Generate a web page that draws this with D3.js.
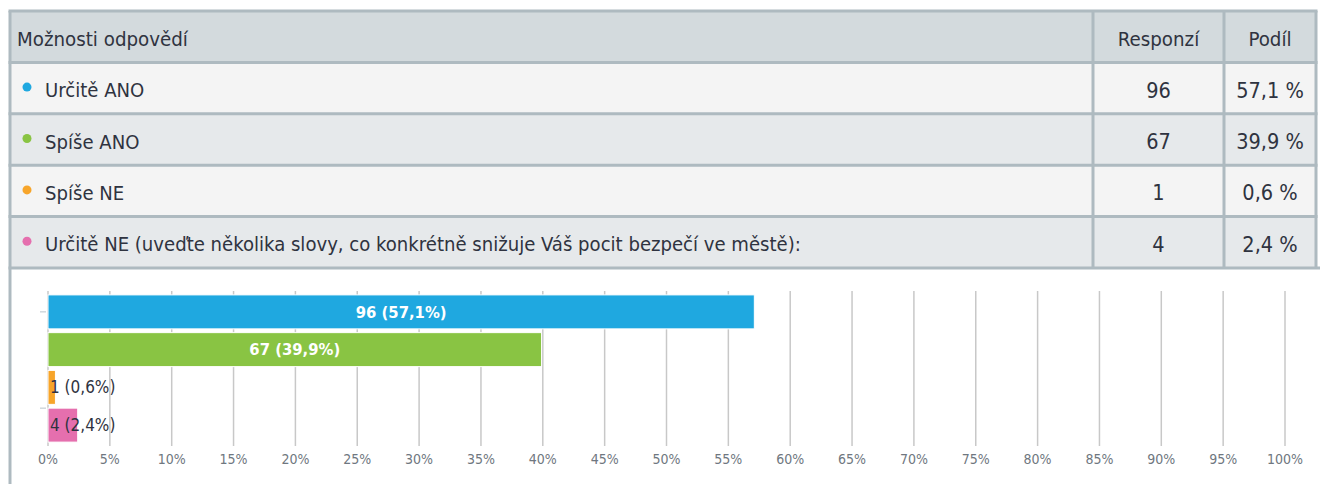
<!DOCTYPE html>
<html>
<head>
<meta charset="utf-8">
<script src="https://cdn.jsdelivr.net/npm/d3@7"></script>
<style>
  body { margin: 0; background: #fff; }
  svg text { font-family: "DejaVu Sans Condensed", "DejaVu Sans", sans-serif; font-stretch: condensed; }
</style>
</head>
<body>
<svg id="chart" width="1320" height="484"></svg>
<script>
// ------------------------------------------------------------
// Data
// ------------------------------------------------------------
const categories = [
    "Určitě ANO",
    "Spíše ANO",
    "Spíše NE",
    "Určitě NE (uveďte několika slovy, co konkrétně snižuje Váš pocit bezpečí ve městě):"
];
const responses = [96, 67, 1, 4];
const shares = [57.1, 39.9, 0.6, 2.4];
const colors = ["#1fa8e0", "#89c443", "#f7a52a", "#e56fae"];
const headers = ["Možnosti odpovědí", "Responzí", "Podíl"];
const tickValues = d3.range(0, 101, 5);

const svg = d3.select("#chart");
const fmt = v => d3.format(".1f")(v).replace(".", ",");
const textColor = "#2f3340";

// ------------------------------------------------------------
// Table
// ------------------------------------------------------------
const tableLeft = 10, tableRight = 1316;
const colEdges = [tableLeft, 1093, 1224, tableRight];
const rowY = d3.scaleLinear().domain([0, 5]).range([11, 268]);
const borderColor = "#aebac0";

// header
svg.append("rect")
    .attr("x", tableLeft).attr("y", rowY(0))
    .attr("width", tableRight - tableLeft).attr("height", rowY(1) - rowY(0))
    .attr("fill", "#d3dadd");

// body rows
svg.selectAll("rect.row")
    .data(categories)
    .enter()
    .append("rect")
    .attr("class", "row")
    .attr("x", tableLeft)
    .attr("y", (d, i) => rowY(i + 1))
    .attr("width", tableRight - tableLeft)
    .attr("height", rowY(1) - rowY(0))
    .attr("fill", (d, i) => i % 2 === 0 ? "#f4f4f4" : "#e6e9eb");

// chart panel
svg.append("rect")
    .attr("x", tableLeft).attr("y", rowY(5))
    .attr("width", 1320 - tableLeft).attr("height", 484 - rowY(5))
    .attr("fill", "#fff");
svg.append("line")
    .attr("x1", tableLeft).attr("x2", tableLeft)
    .attr("y1", rowY(5)).attr("y2", 484)
    .attr("stroke", borderColor).attr("stroke-width", 3);

// horizontal borders
svg.selectAll("line.hb")
    .data(d3.range(0, 6))
    .enter()
    .append("line")
    .attr("class", "hb")
    .attr("x1", tableLeft - 1.5)
    .attr("x2", (d) => d === 5 ? 1320 : tableRight + 1.5)
    .attr("y1", d => rowY(d)).attr("y2", d => rowY(d))
    .attr("stroke", borderColor).attr("stroke-width", 3);

// vertical borders
svg.selectAll("line.vb")
    .data(colEdges)
    .enter()
    .append("line")
    .attr("class", "vb")
    .attr("x1", d => d).attr("x2", d => d)
    .attr("y1", rowY(0)).attr("y2", rowY(5))
    .attr("stroke", borderColor).attr("stroke-width", 3);

// header text
svg.append("text")
    .text(headers[0])
    .attr("x", 17).attr("y", (rowY(0) + rowY(1)) / 2 + 2)
    .attr("dy", "0.35em")
    .attr("fill", textColor).attr("font-size", "20.3px");
[1, 2].forEach(c => {
    svg.append("text")
        .text(headers[c])
        .attr("x", (colEdges[c] + colEdges[c + 1]) / 2)
        .attr("y", (rowY(0) + rowY(1)) / 2 + 2)
        .attr("dy", "0.35em")
        .attr("text-anchor", "middle")
        .attr("fill", textColor).attr("font-size", "20.3px");
});

// row dots and text
const rowMid = i => (rowY(i + 1) + rowY(i + 2)) / 2;
svg.selectAll("circle.dot")
    .data(categories)
    .enter()
    .append("circle")
    .attr("cx", 27)
    .attr("cy", (d, i) => rowMid(i) - 1)
    .attr("r", 4.5)
    .attr("fill", (d, i) => colors[i]);

svg.selectAll("text.label")
    .data(categories)
    .enter()
    .append("text")
    .text(d => d)
    .attr("x", 45)
    .attr("y", (d, i) => rowMid(i) + 2)
    .attr("dy", "0.35em")
    .attr("fill", textColor).attr("font-size", "20.1px");

svg.selectAll("text.resp")
    .data(responses)
    .enter()
    .append("text")
    .text(d => d)
    .attr("x", (colEdges[1] + colEdges[2]) / 2)
    .attr("y", (d, i) => rowMid(i) + 2)
    .attr("dy", "0.35em")
    .attr("text-anchor", "middle")
    .attr("fill", textColor).attr("font-size", "21.5px");

svg.selectAll("text.share")
    .data(shares)
    .enter()
    .append("text")
    .text(d => fmt(d) + " %")
    .attr("x", (colEdges[2] + colEdges[3]) / 2)
    .attr("y", (d, i) => rowMid(i) + 2)
    .attr("dy", "0.35em")
    .attr("text-anchor", "middle")
    .attr("fill", textColor).attr("font-size", "21.5px");

// ------------------------------------------------------------
// Bar chart
// ------------------------------------------------------------
const xScale = d3.scaleLinear()
    .domain([0, 100])
    .range([48, 1285]);

const yScale = d3.scaleBand()
    .domain(categories)
    .range([293, 444])
    .paddingInner(0.1)
    .paddingOuter(0.05);

// gridlines
svg.selectAll("line.grid")
    .data(tickValues)
    .enter()
    .append("line")
    .attr("x1", d => xScale(d)).attr("x2", d => xScale(d))
    .attr("y1", 291).attr("y2", 446)
    .attr("stroke", "#c8c8c8").attr("stroke-width", 1.5);

// tick labels
svg.selectAll("text.tick")
    .data(tickValues)
    .enter()
    .append("text")
    .text(d => d + "%")
    .attr("x", d => xScale(d))
    .attr("y", 459)
    .attr("dy", "0.35em")
    .attr("text-anchor", "middle")
    .attr("fill", "#6f7780").attr("font-size", "14px");

// small left ticks
svg.selectAll("line.ytick")
    .data([yScale(categories[0]) + yScale.bandwidth() / 2, yScale(categories[3])])
    .enter()
    .append("line")
    .attr("x1", 40).attr("x2", 46)
    .attr("y1", d => d).attr("y2", d => d)
    .attr("stroke", "#b8c4cc").attr("stroke-width", 1);

// bars
svg.selectAll("rect.bar")
    .data(shares)
    .enter()
    .append("rect")
    .attr("x", xScale(0))
    .attr("y", (d, i) => yScale(categories[i]))
    .attr("width", d => xScale(d) - xScale(0))
    .attr("height", yScale.bandwidth())
    .attr("fill", (d, i) => colors[i])
    .attr("stroke", "#fff").attr("stroke-width", 1);

// bar labels
svg.selectAll("text.barlabel")
    .data(shares)
    .enter()
    .append("text")
    .text((d, i) => responses[i] + " (" + fmt(d) + "%)")
    .attr("x", d => d > 10 ? (xScale(0) + xScale(d)) / 2 : xScale(0) + 2)
    .attr("y", (d, i) => yScale(categories[i]) + yScale.bandwidth() / 2)
    .attr("dy", "0.35em")
    .attr("text-anchor", d => d > 10 ? "middle" : "start")
    .attr("fill", d => d > 10 ? "#fff" : textColor)
    .attr("font-weight", d => d > 10 ? "bold" : "normal")
    .attr("font-size", d => d > 10 ? "16.5px" : "17px");
</script>
</body>
</html>
